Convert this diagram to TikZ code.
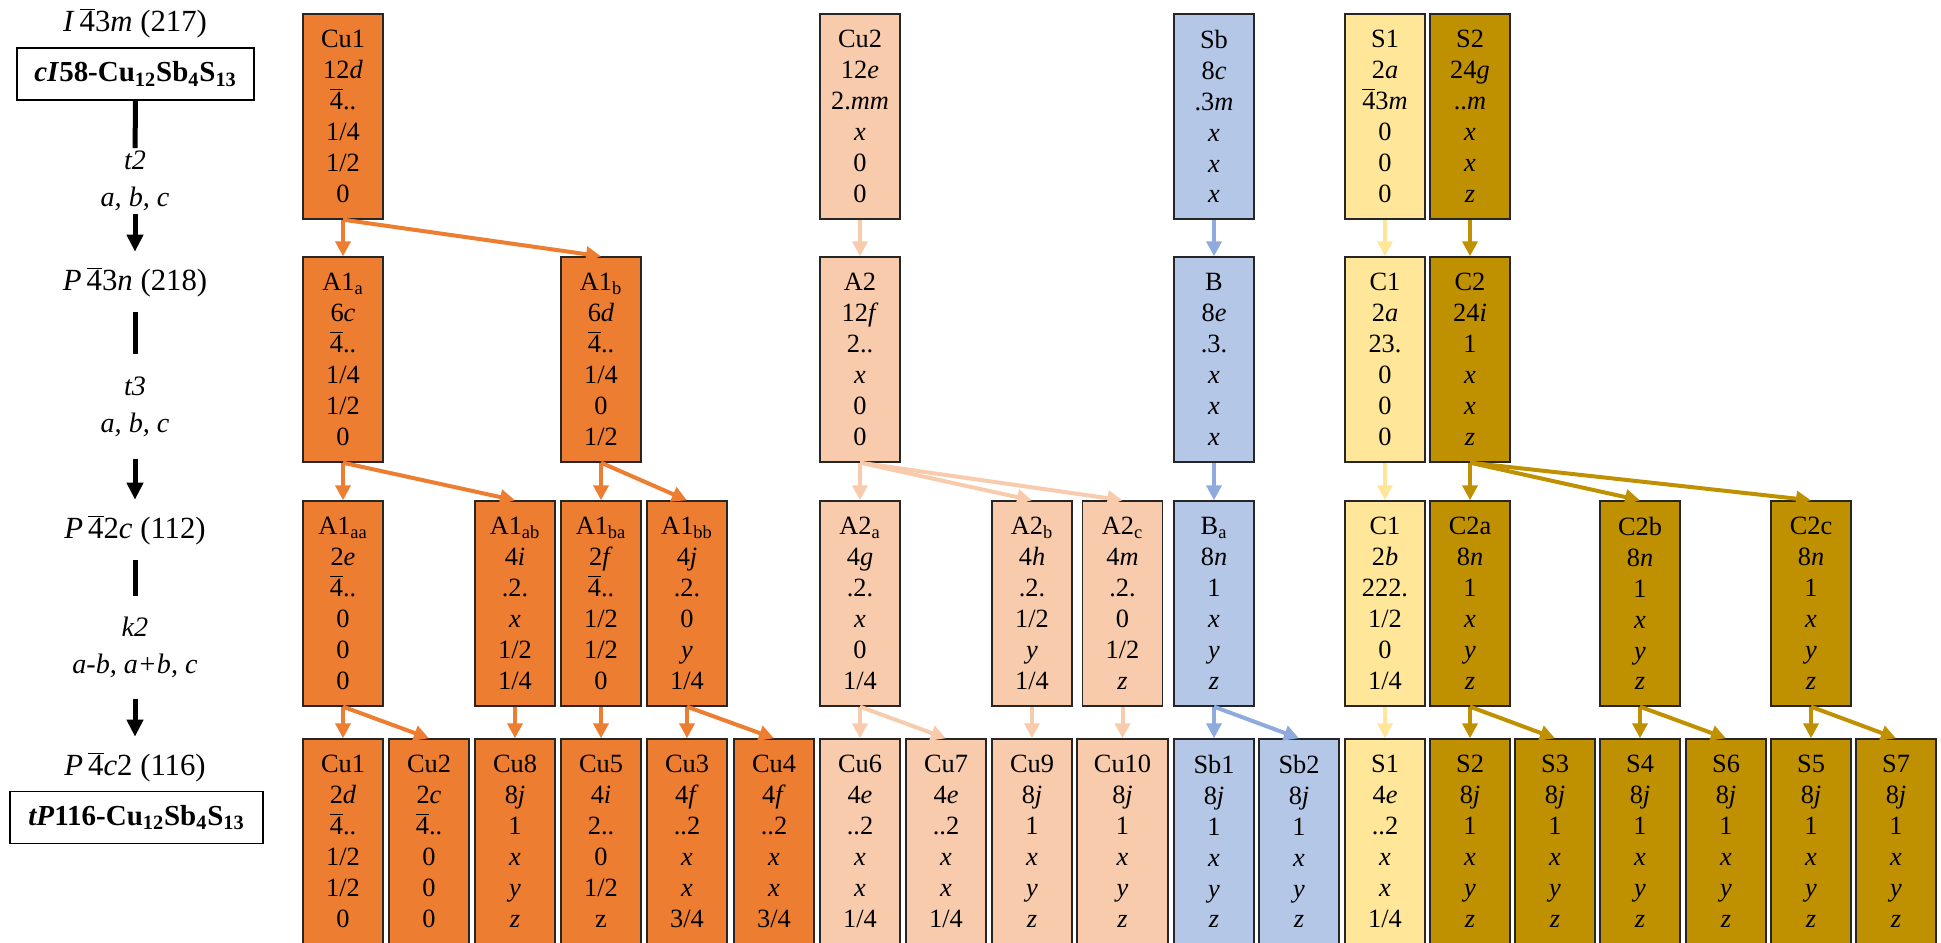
\documentclass[tikz,border=0pt]{standalone}
\usepackage{fontspec}
\setmainfont{Liberation Serif}
\usetikzlibrary{arrows.meta}
\definecolor{cuorange}{HTML}{ED7D31}
\definecolor{cupeach}{HTML}{F8CBAD}
\definecolor{sbblue}{HTML}{B4C7E7}
\definecolor{sbline}{HTML}{8FAADC}
\definecolor{slight}{HTML}{FFE699}
\definecolor{sgold}{HTML}{BF9000}
\newcommand{\fourbar}{$\overline{\mbox{4}}$}
\tikzset{%
  >={Triangle[width=3mm,length=3mm]},
  % Specifications for the Wyckoff site boxes:
     sitebase/.style = {rectangle, draw=black!85, line width=0.8pt,
                        minimum width=1.6cm, minimum height=4.1cm, inner sep=0pt,
                        text centered, font=\fontsize{15}{17.6}\selectfont},
        cuone/.style = {sitebase, fill=cuorange},
        cutwo/.style = {sitebase, fill=cupeach},
       sbsite/.style = {sitebase, fill=sbblue},
         sone/.style = {sitebase, fill=slight},
         stwo/.style = {sitebase, fill=sgold},
  % group--subgroup column on the left:
       sgname/.style = {minimum height=1.2cm, inner sep=0pt, font=\fontsize{17.5}{20}\selectfont},
        sgbox/.style = {rectangle, draw=black, line width=1pt, minimum width=4.74cm,
                        minimum height=1.04cm, inner sep=0pt, font=\fontsize{16.5}{20}\selectfont\bfseries},
      steplbl/.style = {inner sep=0.5mm, font=\fontsize{16}{21}\selectfont\itshape},
      grpline/.style = {black, line width=0.1cm},
     grparrow/.style = {grpline, -{Triangle[width=3.2mm,length=3.4mm]}},
  % arrows between the sites:
     cuonearr/.style = {->, cuorange, line width=0.08cm},
     cutwoarr/.style = {->, cupeach, line width=0.08cm},
        sbarr/.style = {->, sbline, line width=0.08cm},
      sonearr/.style = {->, slight, line width=0.08cm},
      stwoarr/.style = {->, sgold, line width=0.08cm}
}
\begin{document}
\begin{tikzpicture}[align=center]
  \useasboundingbox (0,0) rectangle (38.82,18.84);

  % left column
  \node (g217)  [sgname]  at (2.7,18.38) {\textit{I}\,\fourbar3\textit{m} (217)};
  \node (cI58)  [sgbox]   at (2.71,17.36) {\textit{cI}58-Cu\textsubscript{12}Sb\textsubscript{4}S\textsubscript{13}};
  \node (tt2)   [steplbl] at (2.7,15.22) {t2\\a, b, c};
  \node (g218)  [sgname]  at (2.7,13.2) {\textit{P}\,\fourbar3\textit{n} (218)};
  \node (tt3)   [steplbl, minimum height=2.1cm] at (2.7,10.71) {t3\\a, b, c};
  \node (g112)  [sgname]  at (2.7,8.24) {\textit{P}\,\fourbar2\textit{c} (112)};
  \node (kk2)   [steplbl, minimum height=2.05cm] at (2.7,5.89) {k2\\a-b, a+b, c};
  \node (g116)  [sgname]  at (2.7,3.5) {\textit{P}\,\fourbar\textit{c}2 (116)};
  \node (tP116) [sgbox, minimum width=5.06cm] at (2.73,2.49) {\textit{tP}116-Cu\textsubscript{12}Sb\textsubscript{4}S\textsubscript{13}};

  \draw[grpline]  (cI58) -- (tt2);
  \draw[grparrow] (tt2) -- (g218);
  \draw[grpline]  (g218) -- (tt3);
  \draw[grparrow] (tt3) -- (g112);
  \draw[grpline]  (g112) -- (kk2);
  \draw[grparrow] (kk2) -- (g116);

  % I-43m
  \node (r1cu1) [cuone]  at (6.86,16.51)  {Cu1\\12\textit{d}\\\fourbar..\\1/4\\1/2\\0};
  \node (r1cu2) [cutwo]  at (17.20,16.51) {Cu2\\12\textit{e}\\2.\textit{mm}\\\textit{x}\\0\\0};
  \node (r1sb)  [sbsite] at (24.28,16.51) {Sb\\8\textit{c}\\.3\textit{m}\\\textit{x}\\\textit{x}\\\textit{x}};
  \node (r1s1)  [sone]   at (27.70,16.51) {S1\\2\textit{a}\\\fourbar3\textit{m}\\0\\0\\0};
  \node (r1s2)  [stwo]   at (29.40,16.51) {S2\\24\textit{g}\\..\textit{m}\\\textit{x}\\\textit{x}\\\textit{z}};

  % P-43n
  \node (r2a1a) [cuone]  at (6.86,11.65)  {A1\textsubscript{a}\\6\textit{c}\\\fourbar..\\1/4\\1/2\\0};
  \node (r2a1b) [cuone]  at (12.02,11.65) {A1\textsubscript{b}\\6\textit{d}\\\fourbar..\\1/4\\0\\1/2};
  \node (r2a2)  [cutwo]  at (17.20,11.65) {A2\\12\textit{f}\\2..\\\textit{x}\\0\\0};
  \node (r2b)   [sbsite] at (24.28,11.65) {B\\8\textit{e}\\.3.\\\textit{x}\\\textit{x}\\\textit{x}};
  \node (r2c1)  [sone]   at (27.70,11.65) {C1\\2\textit{a}\\23.\\0\\0\\0};
  \node (r2c2)  [stwo]   at (29.40,11.65) {C2\\24\textit{i}\\1\\\textit{x}\\\textit{x}\\\textit{z}};

  % P-42c
  \node (r3a1aa) [cuone]  at (6.86,6.77)  {A1\textsubscript{aa}\\2\textit{e}\\\fourbar..\\0\\0\\0};
  \node (r3a1ab) [cuone]  at (10.30,6.77) {A1\textsubscript{ab}\\4\textit{i}\\.2.\\\textit{x}\\1/2\\1/4};
  \node (r3a1ba) [cuone]  at (12.02,6.77) {A1\textsubscript{ba}\\2\textit{f}\\\fourbar..\\1/2\\1/2\\0};
  \node (r3a1bb) [cuone]  at (13.74,6.77) {A1\textsubscript{bb}\\4\textit{j}\\.2.\\0\\\textit{y}\\1/4};
  \node (r3a2a)  [cutwo]  at (17.20,6.77) {A2\textsubscript{a}\\4\textit{g}\\.2.\\\textit{x}\\0\\1/4};
  \node (r3a2b)  [cutwo]  at (20.64,6.77) {A2\textsubscript{b}\\4\textit{h}\\.2.\\1/2\\\textit{y}\\1/4};
  \node (r3a2c)  [cutwo]  at (22.45,6.77) {A2\textsubscript{c}\\4\textit{m}\\.2.\\0\\1/2\\\textit{z}};
  \node (r3ba)   [sbsite] at (24.28,6.77) {B\textsubscript{a}\\8\textit{n}\\1\\\textit{x}\\\textit{y}\\\textit{z}};
  \node (r3c1)   [sone]   at (27.70,6.77) {C1\\2\textit{b}\\222.\\1/2\\0\\1/4};
  \node (r3c2a)  [stwo]   at (29.40,6.77) {C2a\\8\textit{n}\\1\\\textit{x}\\\textit{y}\\\textit{z}};
  \node (r3c2b)  [stwo]   at (32.80,6.77) {C2b\\8\textit{n}\\1\\\textit{x}\\\textit{y}\\\textit{z}};
  \node (r3c2c)  [stwo]   at (36.22,6.77) {C2c\\8\textit{n}\\1\\\textit{x}\\\textit{y}\\\textit{z}};

  % P-4c2
  \node (r4cu1)  [cuone]  at (6.86,2.01)  {Cu1\\2\textit{d}\\\fourbar..\\1/2\\1/2\\0};
  \node (r4cu2)  [cuone]  at (8.58,2.01)  {Cu2\\2\textit{c}\\\fourbar..\\0\\0\\0};
  \node (r4cu8)  [cuone]  at (10.30,2.01) {Cu8\\8\textit{j}\\1\\\textit{x}\\\textit{y}\\\textit{z}};
  \node (r4cu5)  [cuone]  at (12.02,2.01) {Cu5\\4\textit{i}\\2..\\0\\1/2\\z};
  \node (r4cu3)  [cuone]  at (13.74,2.01) {Cu3\\4\textit{f}\\..2\\\textit{x}\\\textit{x}\\3/4};
  \node (r4cu4)  [cuone]  at (15.48,2.01) {Cu4\\4\textit{f}\\..2\\\textit{x}\\\textit{x}\\3/4};
  \node (r4cu6)  [cutwo]  at (17.20,2.01) {Cu6\\4\textit{e}\\..2\\\textit{x}\\\textit{x}\\1/4};
  \node (r4cu7)  [cutwo]  at (18.92,2.01) {Cu7\\4\textit{e}\\..2\\\textit{x}\\\textit{x}\\1/4};
  \node (r4cu9)  [cutwo]  at (20.64,2.01) {Cu9\\8\textit{j}\\1\\\textit{x}\\\textit{y}\\\textit{z}};
  \node (r4cu10) [cutwo, minimum width=1.82cm] at (22.45,2.01) {Cu10\\8\textit{j}\\1\\\textit{x}\\\textit{y}\\\textit{z}};
  \node (r4sb1)  [sbsite] at (24.28,2.01) {Sb1\\8\textit{j}\\1\\\textit{x}\\\textit{y}\\\textit{z}};
  \node (r4sb2)  [sbsite] at (25.98,2.01) {Sb2\\8\textit{j}\\1\\\textit{x}\\\textit{y}\\\textit{z}};
  \node (r4s1)   [sone]   at (27.70,2.01) {S1\\4\textit{e}\\..2\\\textit{x}\\\textit{x}\\1/4};
  \node (r4s2)   [stwo]   at (29.40,2.01) {S2\\8\textit{j}\\1\\\textit{x}\\\textit{y}\\\textit{z}};
  \node (r4s3)   [stwo]   at (31.10,2.01) {S3\\8\textit{j}\\1\\\textit{x}\\\textit{y}\\\textit{z}};
  \node (r4s4)   [stwo]   at (32.80,2.01) {S4\\8\textit{j}\\1\\\textit{x}\\\textit{y}\\\textit{z}};
  \node (r4s6)   [stwo]   at (34.52,2.01) {S6\\8\textit{j}\\1\\\textit{x}\\\textit{y}\\\textit{z}};
  \node (r4s5)   [stwo]   at (36.22,2.01) {S5\\8\textit{j}\\1\\\textit{x}\\\textit{y}\\\textit{z}};
  \node (r4s7)   [stwo]   at (37.92,2.01) {S7\\8\textit{j}\\1\\\textit{x}\\\textit{y}\\\textit{z}};

  % t2
  \draw[cuonearr] (r1cu1.south) -- (r2a1a.north);
  \draw[cuonearr] (r1cu1.south) -- (r2a1b.north);
  \draw[cutwoarr] (r1cu2) -- (r2a2);
  \draw[sbarr]    (r1sb) -- (r2b);
  \draw[sonearr]  (r1s1) -- (r2c1);
  \draw[stwoarr]  (r1s2) -- (r2c2);

  % t3
  \draw[cuonearr] (r2a1a.south) -- (r3a1aa.north);
  \draw[cuonearr] (r2a1a.south) -- (r3a1ab.north);
  \draw[cuonearr] (r2a1b.south) -- (r3a1ba.north);
  \draw[cuonearr] (r2a1b.south) -- (r3a1bb.north);
  \draw[cutwoarr] (r2a2.south) -- (r3a2a.north);
  \draw[cutwoarr] (r2a2.south) -- (r3a2b.north);
  \draw[cutwoarr] (r2a2.south) -- (r3a2c.north);
  \draw[sbarr]    (r2b) -- (r3ba);
  \draw[sonearr]  (r2c1) -- (r3c1);
  \draw[stwoarr]  (r2c2.south) -- (r3c2a.north);
  \draw[stwoarr]  (r2c2.south) -- (r3c2b.north);
  \draw[stwoarr]  (r2c2.south) -- (r3c2c.north);

  % k2
  \draw[cuonearr] (r3a1aa.south) -- (r4cu1.north);
  \draw[cuonearr] (r3a1aa.south) -- (r4cu2.north);
  \draw[cuonearr] (r3a1ab) -- (r4cu8);
  \draw[cuonearr] (r3a1ba) -- (r4cu5);
  \draw[cuonearr] (r3a1bb.south) -- (r4cu3.north);
  \draw[cuonearr] (r3a1bb.south) -- (r4cu4.north);
  \draw[cutwoarr] (r3a2a.south) -- (r4cu6.north);
  \draw[cutwoarr] (r3a2a.south) -- (r4cu7.north);
  \draw[cutwoarr] (r3a2b) -- (r4cu9);
  \draw[cutwoarr] (r3a2c) -- (r4cu10);
  \draw[sbarr]    (r3ba.south) -- (r4sb1.north);
  \draw[sbarr]    (r3ba.south) -- (r4sb2.north);
  \draw[sonearr]  (r3c1) -- (r4s1);
  \draw[stwoarr]  (r3c2a.south) -- (r4s2.north);
  \draw[stwoarr]  (r3c2a.south) -- (r4s3.north);
  \draw[stwoarr]  (r3c2b.south) -- (r4s4.north);
  \draw[stwoarr]  (r3c2b.south) -- (r4s6.north);
  \draw[stwoarr]  (r3c2c.south) -- (r4s5.north);
  \draw[stwoarr]  (r3c2c.south) -- (r4s7.north);
\end{tikzpicture}
\end{document}
